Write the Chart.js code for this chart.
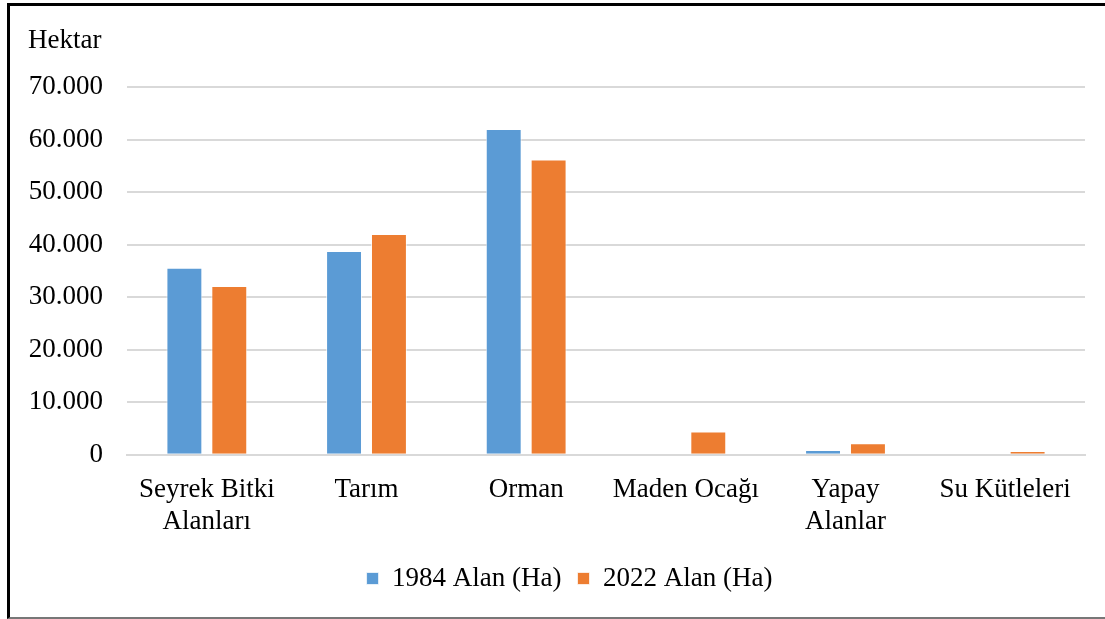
<!DOCTYPE html>
<html>
<head>
<meta charset="utf-8">
<script src="https://cdn.jsdelivr.net/npm/chart.js@4/dist/chart.umd.min.js"></script>
<style>
  html, body { margin: 0; padding: 0; background: #fff; overflow: hidden; }
  #wrap { position: absolute; left: 0; top: 0; width: 1105px; height: 619px; }
  #frame {
    position: absolute; left: 7px; top: 3px; width: 1110px; height: 611px;
    border-left: 3px solid #000; border-top: 3px solid #000; border-bottom: 2px solid #777;
    pointer-events: none;
  }
</style>
</head>
<body>
<div id="wrap">
  <canvas id="landuse-chart" width="1105" height="619"></canvas>
  <div id="frame"></div>
</div>
<script>
// Land cover areas (hectares), 1984 vs 2022
const categories = [['Seyrek Bitki', 'Alanları'], 'Tarım', 'Orman', 'Maden Ocağı', ['Yapay', 'Alanlar'], 'Su Kütleleri'];
const area1984 = [35600, 38800, 62000, 0, 900, 0];
const area2022 = [32100, 42000, 56200, 4400, 2200, 700];
const seriesLabels = ['1984 Alan (Ha)', '2022 Alan (Ha)'];
const yMax = 70000;
const yStep = 10000;

const FONT = "'Liberation Serif', 'Times New Roman', serif";
const FONT_SIZE = 27;

// Thousands separator with a dot
function formatTick(v) {
  return String(v).replace(/\B(?=(\d{3})+(?!\d))/g, '.');
}

// Unit label drawn above the value axis
const unitLabel = {
  id: 'unitLabel',
  afterDraw(chart) {
    const ctx = chart.ctx;
    ctx.save();
    ctx.font = FONT_SIZE + 'px ' + FONT;
    ctx.fillStyle = '#000';
    ctx.textBaseline = 'alphabetic';
    ctx.textAlign = 'left';
    ctx.fillText('Hektar', 28, 48);
    ctx.restore();
  }
};

// Nudge the legend a bit to the right of the canvas centre
const legendShift = {
  id: 'legendShift',
  afterLayout(chart) {
    if (chart.legend) {
      chart.legend.left += 27;
      chart.legend.right += 27;
    }
  }
};

Chart.defaults.font.family = FONT;
Chart.defaults.font.size = FONT_SIZE;
Chart.defaults.color = '#000';

new Chart(document.getElementById('landuse-chart'), {
  type: 'bar',
  data: {
    labels: categories,
    datasets: [
      {
        label: seriesLabels[0],
        data: area1984,
        backgroundColor: '#5B9BD5',
        borderColor: 'rgba(255,255,255,0.7)',
        borderWidth: 1,
        barPercentage: 0.8,
        categoryPercentage: 0.5625
      },
      {
        label: seriesLabels[1],
        data: area2022,
        backgroundColor: '#ED7D31',
        borderColor: 'rgba(255,255,255,0.7)',
        borderWidth: 1,
        barPercentage: 0.8,
        categoryPercentage: 0.5625
      }
    ]
  },
  options: {
    responsive: false,
    animation: false,
    layout: {
      padding: { top: 87, right: 20, bottom: 17, left: 0 }
    },
    plugins: {
      legend: {
        position: 'bottom',
        labels: {
          boxWidth: 12,
          boxHeight: 12,
          padding: 16,
          font: { size: FONT_SIZE, family: FONT }
        }
      },
      tooltip: { enabled: false }
    },
    scales: {
      x: {
        grid: { display: false },
        border: { display: true, color: '#D9D9D9', width: 2 },
        ticks: {
          padding: 11,
          maxRotation: 0,
          autoSkip: false,
          font: { size: FONT_SIZE, family: FONT, lineHeight: 1.19 }
        }
      },
      y: {
        min: 0,
        max: yMax,
        afterFit(scale) { scale.width = 127; },
        border: { display: false },
        grid: { color: '#D9D9D9', lineWidth: 2, drawTicks: false },
        ticks: {
          stepSize: yStep,
          padding: 24,
          callback: formatTick,
          font: { size: FONT_SIZE, family: FONT }
        }
      }
    }
  },
  plugins: [unitLabel, legendShift]
});
</script>
</body>
</html>
